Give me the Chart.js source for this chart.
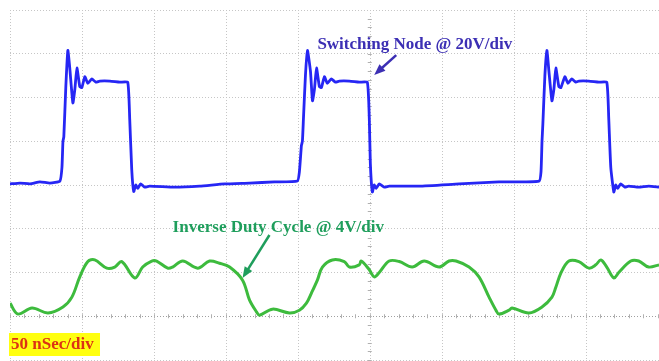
<!DOCTYPE html>
<html>
<head>
<meta charset="utf-8">
<script src="https://cdn.jsdelivr.net/npm/chart.js@4/dist/chart.umd.min.js"></script>
<style>
  html, body { margin: 0; padding: 0; background: #fff; }
  #wrap { width: 659px; height: 361px; }
</style>
</head>
<body>
<div id="wrap"><canvas id="scope"></canvas></div>
<script>
//Switching node trace (time in ns, volts at 20V/div)
let swTime = [0, 6.9, 13.9, 20.8, 27.7, 34.7, 36.1, 36.8, 37.4, 38.8, 40.2, 41.6, 43.7, 45.1, 46.5, 48.5, 49.9, 52, 54.1, 56.9, 59.6, 62.4, 69.4, 76.3, 81.8, 83.2, 84.6, 86, 87.4, 88.8, 90.8, 93.6, 97.1, 114.4, 131.8, 149.1, 166.4, 183.8, 199.7,
    201.1, 202.5, 203.2, 203.9, 205.3, 206.7, 208.8, 210.2, 211.6, 213, 215, 216.4, 218.5, 220.5, 223.3, 226.1, 228.8, 235.8, 242.7, 248.3, 249.7, 250.4, 251.8, 253.1, 254.5, 256.6, 260.1, 263.5, 284.3, 312.1, 339.8, 367.6,
    369, 369.7, 370.3, 371.7, 373.1, 374.5, 376.6, 378, 379.3, 381.4, 382.8, 385.6, 387.7, 390.4, 393.2, 395.3, 402.2, 409.2, 414.7, 416.1, 417.5, 419.6, 420.9, 422.3, 424.4, 427.2, 430, 436.9, 443.8, 451];
let swVolts = [0.5, 0.9, 0.5, 1.4, 0.9, 1.8, 8, 20, 22, 45, 61.5, 53, 37.5, 44, 53.5, 45, 44.5, 49.5, 46.5, 48.5, 47, 47.5, 47.5, 47, 47, 30, 7, -3, 0, -1.5, 0.5, -1, -0.5, -1, -0.5, 0.5, 0.9, 1.4, 1.8,
    6, 18, 20, 30, 50, 61.5, 52, 38.5, 44, 53.5, 45, 44.5, 49.5, 46.5, 48.5, 47, 47.5, 47.5, 47, 47, 30, 10, -3.2, 0, -1.5, 0.5, -1, -0.5, -0.5, 0.5, 1.4, 1.8,
    6, 20, 28, 50, 61.5, 52, 38.5, 44, 53.5, 45, 44.5, 49.5, 46.5, 48.5, 47, 47.5, 47.5, 47, 47, 30, 8, -3.2, 0, -1.5, 0.5, -1, -0.5, -1, -0.5, -1];

//Inverse duty cycle trace (time in ns, volts at 4V/div)
let dutyTime = [0, 5.5, 15.3, 26.4, 36.8, 43, 48.5, 54.1, 58.9, 67.3, 72.8, 77.7, 86.7, 92.2, 98.5, 101.9, 109.6, 113, 120, 130.4, 138.7, 145.6, 152.6, 161.6, 166.4, 171.3, 173.4, 182.4, 194.2, 201.1,
    206, 209.4, 213.6, 217.1, 224, 232.3, 235.8, 242.7, 244.1, 249.7, 253.1, 256.6, 263.5, 270.5, 279.5, 287.8, 298.2, 305.1, 310, 319, 325.9, 332.9, 337.7, 339.8, 346.8, 348.8, 360.6,
    369.7, 376.6, 379.3, 382.8, 388.4, 395.3, 402.2, 407.1, 410.6, 414.7, 419.6, 423, 431.4, 436.9, 443.8, 451];
let dutyVolts = [1.2, 0.2, 0.75, 0.3, 0.85, 1.75, 3.6, 5.0, 5.15, 4.4, 4.5, 5.0, 3.5, 4.5, 5.05, 5.05, 4.4, 4.5, 5.05, 4.4, 5.05, 4.85, 4.5, 3.3, 1.5, 0.4, 0.1, 0.65, 0.3, 0.55,
    1.2, 2.1, 3.3, 4.5, 5.15, 5.0, 4.5, 4.7, 5.05, 4.25, 3.6, 4.0, 5.05, 5.0, 4.5, 5.05, 4.5, 5.05, 5.05, 4.5, 3.6, 1.75, 0.55, 0.2, 0.55, 0.75, 0.3,
    0.85, 1.75, 2.65, 3.95, 5.05, 5.0, 4.4, 4.7, 5.15, 4.5, 3.5, 4.0, 5.05, 5.05, 4.5, 4.7];

//Labels
let swLabel = 'Switching Node @ 20V/div';
let dutyLabel = 'Inverse Duty Cycle @ 4V/div';
let timebaseLabel = '50 nSec/div';

function toPoints(xs, ys) {
    return xs.map((x, i) => ({x: x, y: ys[i]}));
}

function drawArrow(ctx, x1, y1, x2, y2, color) {
    let ang = Math.atan2(y2 - y1, x2 - x1);
    let head = 12;
    ctx.save();
    ctx.strokeStyle = color;
    ctx.fillStyle = color;
    ctx.lineWidth = 2.5;
    ctx.beginPath();
    ctx.moveTo(x1, y1);
    ctx.lineTo(x2 - Math.cos(ang) * head * 0.8, y2 - Math.sin(ang) * head * 0.8);
    ctx.stroke();
    ctx.beginPath();
    ctx.moveTo(x2, y2);
    ctx.lineTo(x2 - head * Math.cos(ang - 0.38), y2 - head * Math.sin(ang - 0.38));
    ctx.lineTo(x2 - head * Math.cos(ang + 0.38), y2 - head * Math.sin(ang + 0.38));
    ctx.closePath();
    ctx.fill();
    ctx.restore();
}

// small tick marks along the scope centre lines
const centerTicks = {
    id: 'centerTicks',
    beforeDatasetsDraw(chart) {
        let ctx = chart.ctx;
        let xs = chart.scales.x, ys = chart.scales.y2;
        let cx = xs.getPixelForValue(250);
        let cy = ys.getPixelForValue(0);
        ctx.save();
        ctx.strokeStyle = '#b0b0b0';
        ctx.lineWidth = 1;
        ctx.beginPath();
        for (let t = 0; t <= 451; t += 10) {
            let px = Math.round(xs.getPixelForValue(t)) + 0.5;
            ctx.moveTo(px, cy - 2);
            ctx.lineTo(px, cy + 2);
        }
        for (let v = -4; v <= 28; v += 0.8) {
            let py = Math.round(ys.getPixelForValue(v)) + 0.5;
            ctx.moveTo(cx - 2, py);
            ctx.lineTo(cx + 2, py);
        }
        ctx.stroke();
        ctx.restore();
    }
};

const notes = {
    id: 'notes',
    afterDatasetsDraw(chart) {
        let ctx = chart.ctx;
        let xs = chart.scales.x, yb = chart.scales.y, yg = chart.scales.y2;
        ctx.save();
        ctx.font = 'bold 17px "Liberation Serif", "DejaVu Serif", serif';
        ctx.textBaseline = 'middle';

        ctx.fillStyle = '#3c2fb4';
        ctx.fillText(swLabel, xs.getPixelForValue(213.6), yb.getPixelForValue(64.4));
        drawArrow(ctx, xs.getPixelForValue(268.4), yb.getPixelForValue(59.4),
            xs.getPixelForValue(253.1), yb.getPixelForValue(50.3), '#3c2fb4');

        ctx.fillStyle = '#1f9e5c';
        ctx.fillText(dutyLabel, xs.getPixelForValue(113), yg.getPixelForValue(8.07));
        drawArrow(ctx, xs.getPixelForValue(180.3), yg.getPixelForValue(7.43),
            xs.getPixelForValue(161.6), yg.getPixelForValue(3.5), '#1f9e5c');

        // timebase box, bottom left
        ctx.fillStyle = '#ffff10';
        ctx.fillRect(9, 333, 91, 23);
        ctx.fillStyle = '#dc3214';
        ctx.fillText(timebaseLabel, 11, 345);
        ctx.restore();
    }
};

let scopeChart = new Chart(document.getElementById('scope').getContext('2d'), {
    type: 'line',
    data: {
        datasets: [{
            label: swLabel,
            data: toPoints(swTime, swVolts),
            yAxisID: 'y',
            borderColor: '#2626f4',
            borderWidth: 2.8,
            pointRadius: 0,
            tension: 0.15
        }, {
            label: dutyLabel,
            data: toPoints(dutyTime, dutyVolts),
            yAxisID: 'y2',
            borderColor: '#3dbb3d',
            borderWidth: 3,
            pointRadius: 0,
            tension: 0.35
        }]
    },
    options: {
        responsive: true,
        maintainAspectRatio: false,
        animation: false,
        layout: {padding: {left: 10, top: 10, right: 0, bottom: 1}},
        plugins: {legend: {display: false}, tooltip: {enabled: false}},
        scales: {
            x: {
                type: 'linear',
                min: 0,
                max: 451,
                ticks: {display: false, stepSize: 50},
                grid: {
                    drawTicks: false,
                    color: (c) => (c.tick && c.tick.value === 250) ? '#a0a0a0' : '#c6c6c6'
                },
                border: {display: false, dash: [1, 2]}
            },
            y: {
                min: -80,
                max: 80,
                display: false
            },
            y2: {
                position: 'left',
                min: -4,
                max: 28,
                ticks: {display: false, stepSize: 4},
                grid: {
                    drawTicks: false,
                    color: (c) => (c.tick && c.tick.value === 0) ? '#a0a0a0' : '#c6c6c6'
                },
                border: {display: false, dash: [1, 2]}
            }
        }
    },
    plugins: [centerTicks, notes]
});
</script>
</body>
</html>
